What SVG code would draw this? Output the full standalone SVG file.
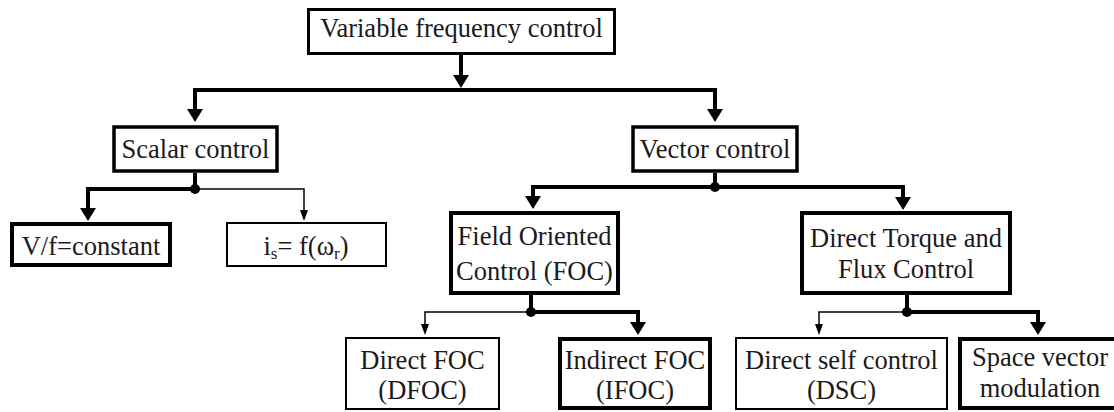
<svg xmlns="http://www.w3.org/2000/svg" width="1114" height="412" viewBox="0 0 1114 412">
  <style>
    .box { fill: #ffffff; stroke: #000000; }
    .bold { stroke-width: 4; }
    .mid { stroke-width: 3.5; }
    .thin { stroke-width: 2; }
    .lbl { font-family: 'Liberation Serif', 'DejaVu Serif', serif; font-size: 26.5px; fill: #1a1a1a; text-anchor: middle; }
    .sub { font-size: 17px; }
    .wire { fill: none; stroke: #000000; stroke-linejoin: miter; }
    .wire-bold { stroke-width: 4; }
    .wire-thin { stroke-width: 1.5; }
  </style>
  <defs>
    <marker id="arrow-bold" viewBox="0 0 13 16" refX="1" refY="8" markerWidth="13" markerHeight="16" markerUnits="userSpaceOnUse" orient="auto">
      <path d="M0,0 L13,8 L0,16 Z" fill="#000000"/>
    </marker>
    <marker id="arrow-thin" viewBox="0 0 11 8" refX="1" refY="4" markerWidth="11" markerHeight="8" markerUnits="userSpaceOnUse" orient="auto">
      <path d="M0,0 L11,4 L0,8 Z" fill="#000000"/>
    </marker>
  </defs>

  <!-- connectors -->
  <g id="connectors">
    <path class="wire wire-bold" d="M461,55 V76" marker-end="url(#arrow-bold)"/>
    <path class="wire wire-bold" d="M461,90 H195 V110" marker-end="url(#arrow-bold)"/>
    <path class="wire wire-bold" d="M461,90 H715 V110" marker-end="url(#arrow-bold)"/>

    <!-- scalar branch -->
    <path class="wire wire-bold" d="M195,173 V189"/>
    <path class="wire wire-bold" d="M195,189 H88 V209" marker-end="url(#arrow-bold)"/>
    <path class="wire wire-thin" d="M195,189 H304 V211" marker-end="url(#arrow-thin)"/>
    <circle cx="195" cy="189" r="5" fill="#000000"/>

    <!-- vector branch -->
    <path class="wire wire-bold" d="M715,173 V187"/>
    <path class="wire wire-bold" d="M715,187 H533 V197" marker-end="url(#arrow-bold)"/>
    <path class="wire wire-bold" d="M715,187 H903 V198" marker-end="url(#arrow-bold)"/>
    <circle cx="715" cy="187" r="5" fill="#000000"/>

    <!-- FOC branch -->
    <path class="wire wire-bold" d="M531,295 V312"/>
    <path class="wire wire-thin" d="M531,312 H425 V325" marker-end="url(#arrow-thin)"/>
    <path class="wire wire-bold" d="M531,312 H638 V323" marker-end="url(#arrow-bold)"/>
    <circle cx="531" cy="312" r="5" fill="#000000"/>

    <!-- DTFC branch -->
    <path class="wire wire-bold" d="M907,295 V312"/>
    <path class="wire wire-thin" d="M907,312 H819 V325" marker-end="url(#arrow-thin)"/>
    <path class="wire wire-bold" d="M907,312 H1038 V323" marker-end="url(#arrow-bold)"/>
    <circle cx="907" cy="312" r="5" fill="#000000"/>
  </g>

  <g id="variable-frequency">
    <rect class="box" x="308.5" y="9.5" width="306" height="44" stroke-width="3"/>
    <text class="lbl" x="461.5" y="37">Variable frequency control</text>
  </g>

  <g id="scalar">
    <rect class="box mid" x="114" y="127" width="163" height="44"/>
    <text class="lbl" x="195.5" y="158">Scalar control</text>
  </g>

  <g id="vector">
    <rect class="box mid" x="633" y="127" width="164" height="44"/>
    <text class="lbl" x="715" y="158">Vector control</text>
  </g>

  <g id="v-f">
    <rect class="box bold" x="12" y="224" width="158" height="41"/>
    <text class="lbl" x="91" y="255">V/f=constant</text>
  </g>

  <g id="is-f">
    <rect class="box thin" x="227" y="223" width="159" height="43"/>
    <text class="lbl" x="306" y="255">i<tspan class="sub" dy="4">s</tspan><tspan dy="-4">= f(ω</tspan><tspan class="sub" dy="4">r</tspan><tspan dy="-4">)</tspan></text>
  </g>

  <g id="foc">
    <rect class="box bold" x="451" y="213" width="167" height="80"/>
    <text class="lbl" x="534.5" y="245">Field Oriented</text>
    <text class="lbl" x="534.5" y="280">Control (FOC)</text>
  </g>

  <g id="dtfc">
    <rect class="box bold" x="802" y="213" width="208" height="80"/>
    <text class="lbl" x="906" y="246.5">Direct Torque and</text>
    <text class="lbl" x="906" y="277.5">Flux Control</text>
  </g>

  <g id="dfoc">
    <rect class="box thin" x="346" y="338" width="153" height="71"/>
    <text class="lbl" x="422.5" y="369">Direct FOC</text>
    <text class="lbl" x="422.5" y="399">(DFOC)</text>
  </g>

  <g id="ifoc">
    <rect class="box bold" x="560" y="339" width="150" height="69"/>
    <text class="lbl" x="635" y="369">Indirect FOC</text>
    <text class="lbl" x="635" y="399">(IFOC)</text>
  </g>

  <g id="dsc">
    <rect class="box thin" x="736" y="338" width="211" height="71"/>
    <text class="lbl" x="841.5" y="369">Direct self control</text>
    <text class="lbl" x="841.5" y="399">(DSC)</text>
  </g>

  <g id="svm">
    <rect class="box bold" x="960" y="339" width="160" height="69"/>
    <text class="lbl" x="1040" y="366">Space vector</text>
    <text class="lbl" x="1040" y="397">modulation</text>
  </g>
</svg>
